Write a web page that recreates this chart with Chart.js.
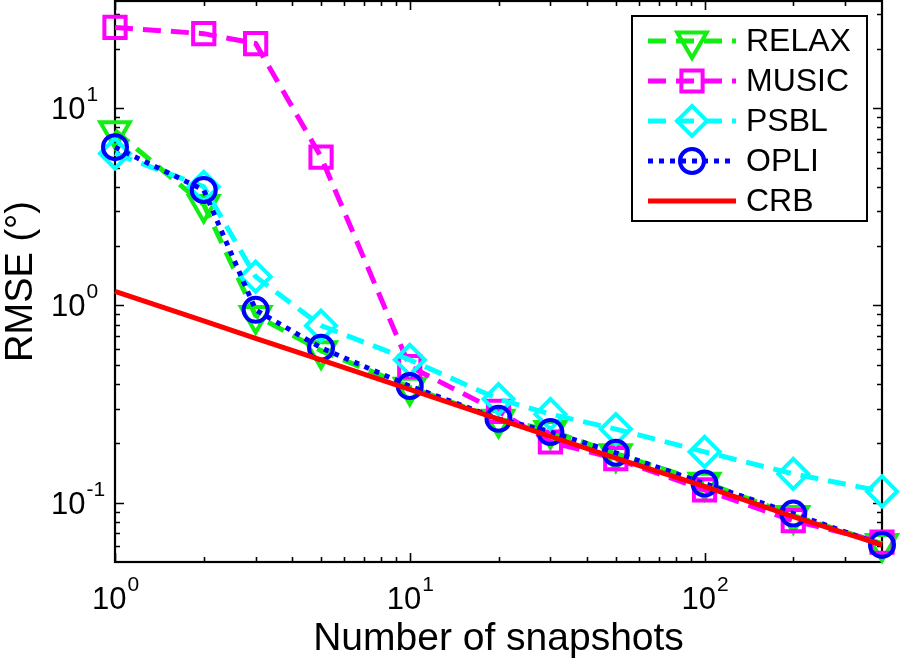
<!doctype html>
<html lang="en">
<head>
<meta charset="utf-8">
<title>RMSE vs number of snapshots</title>
<style>
  body { margin: 0; background: #fff; }
  #box { width: 900px; height: 662px; }
</style>
</head>
<body>
<div id="box"><canvas id="chart" width="900" height="662"></canvas></div>

<script src="https://cdn.jsdelivr.net/npm/chart.js"></script>
<script>
// data
const snapshots = [1, 2, 3, 5, 10, 20, 30, 50, 100, 200, 400];
const relax = [7.7, 3.25, 0.89, 0.59, 0.385, 0.265, 0.232, 0.177, 0.127, 0.086, 0.062];
const music = [25.7, 23.9, 21.3, 5.66, 0.49, 0.29, 0.203, 0.167, 0.116, 0.081, 0.063];
const psbl  = [5.9, 4.0, 1.40, 0.79, 0.53, 0.335, 0.281, 0.236, 0.181, 0.14, 0.114];
const opli  = [6.35, 3.85, 0.95, 0.61, 0.39, 0.266, 0.228, 0.179, 0.125, 0.088, 0.061];
const crb   = [1.18, 0.835, 0.68, 0.53, 0.375, 0.265, 0.217, 0.168, 0.121, 0.085, 0.061];

// axis ticks
const xTicks = [1, 10, 100];
const yTicks = [0.1, 1, 10];
const xTickExps = ['0', '1', '2'];
const yTickExps = ['-1', '0', '1'];
const xMinor = [2, 3, 4, 5, 6, 7, 8, 9, 20, 30, 40, 50, 60, 70, 80, 90, 200, 300];
const yMinor = [0.06, 0.07, 0.08, 0.09, 0.2, 0.3, 0.4, 0.5, 0.6, 0.7, 0.8, 0.9, 2, 3, 4, 5, 6, 7, 8, 9, 20, 30];

const FONT = "'Liberation Sans', Arial, Helvetica, sans-serif";

function serie(label, vals, color, dash, style, radius, rot, order) {
    return {
        label: label,
        data: snapshots.map((x, i) => ({ x: x, y: vals[i] })),
        borderColor: color,
        backgroundColor: 'rgba(0,0,0,0)',
        borderWidth: 5,
        borderDash: dash,
        borderCapStyle: 'butt',
        pointStyle: style,
        pointRadius: radius,
        pointRotation: rot,
        pointBorderColor: color,
        pointBackgroundColor: 'rgba(0,0,0,0)',
        pointBorderWidth: style ? 4 : 0,
        tension: 0,
        clip: false,
        order: order
    };
}

const datasets = [
    serie('RELAX', relax, '#11ee11', [18, 10], 'triangle', 17, 180, 4),
    serie('MUSIC', music, '#ff00ff', [18, 10], 'rect', 15, 0, 3),
    serie('PSBL', psbl, '#00ffff', [18, 10], 'rectRot', 15, 0, 2),
    serie('OPLI', opli, '#0000ff', [5, 6], 'circle', 12, 0, 1),
    serie('CRB', crb, '#ff0000', [], false, 0, 0, 0)
];

// box + inward ticks on all four sides
const axesBox = {
    id: 'axesBox',
    beforeDatasetsDraw(chart) {
        const { ctx, chartArea: a, scales } = chart;
        const xs = scales.x, ys = scales.y;
        ctx.save();
        ctx.strokeStyle = '#000';
        ctx.lineWidth = 1.6;
        const tick = (v, len, horiz) => {
            if (horiz) {
                const p = Math.round(xs.getPixelForValue(v)) + 0.5;
                ctx.moveTo(p, a.bottom); ctx.lineTo(p, a.bottom - len);
                ctx.moveTo(p, a.top); ctx.lineTo(p, a.top + len);
            } else {
                const p = Math.round(ys.getPixelForValue(v)) + 0.5;
                ctx.moveTo(a.left, p); ctx.lineTo(a.left + len, p);
                ctx.moveTo(a.right, p); ctx.lineTo(a.right - len, p);
            }
        };
        ctx.beginPath();
        xTicks.forEach(v => tick(v, 9, true));
        xMinor.forEach(v => tick(v, 5, true));
        yTicks.forEach(v => tick(v, 9, false));
        yMinor.forEach(v => tick(v, 5, false));
        ctx.stroke();
        ctx.lineWidth = 2.2;
        ctx.strokeRect(a.left, a.top, a.right - a.left, a.bottom - a.top);
        ctx.restore();
    }
};

// 10^n tick labels
const powLabels = {
    id: 'powLabels',
    afterDraw(chart) {
        const { ctx, scales } = chart;
        ctx.save();
        ctx.fillStyle = '#000';
        ctx.textBaseline = 'alphabetic';
        ctx.textAlign = 'left';
        const big = '31px ' + FONT, small = '21px ' + FONT;
        xTicks.forEach((v, i) => {
            const p = scales.x.getPixelForValue(v);
            ctx.font = big;
            const wb = ctx.measureText('10').width;
            ctx.font = small;
            const we = ctx.measureText(xTickExps[i]).width;
            const x0 = p - (wb + we) / 2;
            ctx.font = big;
            ctx.fillText('10', x0, 609);
            ctx.font = small;
            ctx.fillText(xTickExps[i], x0 + wb + 1, 591);
        });
        yTicks.forEach((v, i) => {
            const p = scales.y.getPixelForValue(v);
            ctx.font = big;
            const wb = ctx.measureText('10').width;
            ctx.fillText('10', 51, p + 11);
            ctx.font = small;
            ctx.fillText(yTickExps[i], 51 + wb + 1, p - 7);
        });
        ctx.restore();
    }
};

// legend with line + marker samples
const lineLegend = {
    id: 'lineLegend',
    afterDraw(chart) {
        const ctx = chart.ctx;
        const L = 632, T = 16, R = 867, B = 221;
        ctx.save();
        ctx.fillStyle = '#fff';
        ctx.fillRect(L, T, R - L, B - T);
        ctx.strokeStyle = '#000';
        ctx.lineWidth = 2;
        ctx.strokeRect(L, T, R - L, B - T);
        chart.data.datasets.forEach((ds, i) => {
            const y = 41 + i * 40;
            ctx.strokeStyle = ds.borderColor;
            ctx.lineWidth = ds.borderWidth;
            ctx.lineCap = 'butt';
            ctx.setLineDash(ds.borderDash);
            ctx.beginPath();
            ctx.moveTo(648, y);
            ctx.lineTo(736, y);
            ctx.stroke();
            ctx.setLineDash([]);
            if (ds.pointStyle) {
                const cx = 692, r = ds.pointRadius;
                ctx.lineWidth = ds.pointBorderWidth;
                ctx.beginPath();
                if (ds.pointStyle === 'circle') {
                    ctx.arc(cx, y, r, 0, Math.PI * 2);
                } else if (ds.pointStyle === 'rect') {
                    const h = r * Math.SQRT1_2;
                    ctx.rect(cx - h, y - h, 2 * h, 2 * h);
                } else if (ds.pointStyle === 'rectRot') {
                    ctx.moveTo(cx, y - r); ctx.lineTo(cx + r, y);
                    ctx.lineTo(cx, y + r); ctx.lineTo(cx - r, y);
                    ctx.closePath();
                } else if (ds.pointStyle === 'triangle') {
                    const s = Math.sin(Math.PI / 3) * r;
                    ctx.moveTo(cx, y + r); ctx.lineTo(cx - s, y - r / 2);
                    ctx.lineTo(cx + s, y - r / 2);
                    ctx.closePath();
                }
                ctx.stroke();
            }
            ctx.fillStyle = '#000';
            ctx.font = '32px ' + FONT;
            ctx.textBaseline = 'middle';
            ctx.fillText(ds.label, 746, y + 1);
        });
        ctx.restore();
    }
};

new Chart(document.getElementById('chart'), {
    type: 'line',
    data: { datasets: datasets },
    options: {
        responsive: false,
        animation: false,
        layout: { autoPadding: false, padding: { top: 1, right: 18, bottom: 0, left: 0 } },
        plugins: { legend: { display: false }, tooltip: { enabled: false } },
        scales: {
            x: {
                type: 'logarithmic',
                min: 1,
                max: 400,
                grid: { display: false },
                border: { display: false },
                ticks: { display: false },
                afterBuildTicks: s => { s.ticks = xTicks.map(v => ({ value: v })); },
                afterFit: s => { s.height = 100; },
                title: {
                    display: true,
                    text: 'Number of snapshots',
                    color: '#000',
                    font: { family: FONT, size: 39, lineHeight: 1.05 },
                    padding: { top: 0, bottom: 2 }
                }
            },
            y: {
                type: 'logarithmic',
                min: 0.05,
                max: 35,
                grid: { display: false },
                border: { display: false },
                ticks: { display: false },
                afterBuildTicks: s => { s.ticks = yTicks.map(v => ({ value: v })); },
                afterFit: s => { s.width = 115; },
                title: {
                    display: true,
                    text: 'RMSE (°)',
                    color: '#000',
                    font: { family: FONT, size: 38, lineHeight: 1.05 },
                    padding: { top: 2, bottom: 0 }
                }
            }
        }
    },
    plugins: [axesBox, powLabels, lineLegend]
});
</script>
</body>
</html>
